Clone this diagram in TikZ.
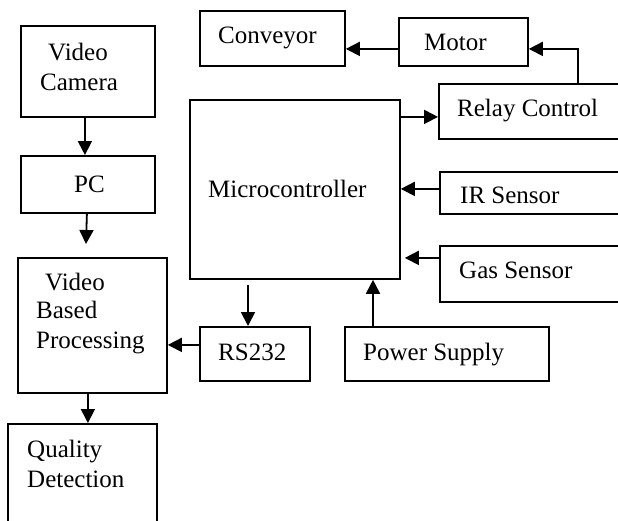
\documentclass[tikz,border=0pt]{standalone}
\usepackage{fontspec}
\setmainfont{Liberation Serif}
\usetikzlibrary{arrows.meta}
\begin{document}
\begin{tikzpicture}[x=1pt,y=-1pt,
  box/.style={draw,line width=1.8pt,inner sep=0pt,anchor=north west},
  lbl/.style={inner sep=0pt,anchor=base west,font=\fontsize{25}{29}\selectfont},
  arr/.style={line width=1.8pt,-{Triangle[length=14pt,width=14pt]}},
  con/.style={line width=1.8pt}]
\useasboundingbox (0,0) rectangle (618,520);
\clip (0,0) rectangle (618,520);
\fill[white] (0,0) rectangle (618,520);
% boxes
\node[box,minimum width=134pt,minimum height=91pt] (cam) at (20,25) {};
\node[box,minimum width=134pt,minimum height=57pt] (pc) at (20,155) {};
\node[box,minimum width=149pt,minimum height=135pt] (vbp) at (17,257) {};
\node[box,minimum width=149pt,minimum height=120pt] (qd) at (7,423) {};
\node[box,minimum width=145pt,minimum height=55pt] (conv) at (199,10) {};
\node[box,minimum width=129pt,minimum height=48pt] (motor) at (398,17) {};
\node[box,minimum width=200pt,minimum height=55pt] (relay) at (438,83) {};
\node[box,minimum width=210pt,minimum height=179pt] (mc) at (189,99) {};
\node[box,minimum width=200pt,minimum height=42pt] (ir) at (439,171) {};
\node[box,minimum width=200pt,minimum height=56pt] (gas) at (439,245) {};
\node[box,minimum width=204pt,minimum height=54pt] (ps) at (344,326) {};
\node[box,minimum width=110pt,minimum height=54pt] (rs) at (199,326) {};
% labels
\node[lbl] (t1) at (48,60) {Video};
\node[lbl] (t2) at (40,90) {Camera};
\node[lbl] (t3) at (74,192) {PC};
\node[lbl] (t4) at (208,197) {Microcontroller};
\node[lbl] (t5) at (218,43) {Conveyor};
\node[lbl] (t6) at (424,50) {Motor};
\node[lbl] (t7) at (457,116) {Relay Control};
\node[lbl] (t8) at (460,203) {IR Sensor};
\node[lbl] (t9) at (459,278) {Gas Sensor};
\node[lbl] (t10) at (363,360) {Power Supply};
\node[lbl] (t11) at (218,360) {RS232};
\node[lbl] (t12) at (45,290) {Video};
\node[lbl] (t13) at (36,318) {Based};
\node[lbl] (t14) at (36,348) {Processing};
\node[lbl] (t15) at (27,457) {Quality};
\node[lbl] (t16) at (27,487) {Detection};
% connector coordinates
\coordinate (c1) at ([xshift=-3pt]cam.south);
\coordinate (c2) at ([xshift=-1pt]pc.south);
\coordinate (pcend) at (86,244);
\coordinate (c3) at ([xshift=-4.5pt]vbp.south);
\coordinate (c4) at ([yshift=9pt]rs.west);
\coordinate (mcout) at (248,285);
\coordinate (psx) at (373,0);
\coordinate (r1) at ([yshift=-5.5pt]relay.west);
\coordinate (i1) at ([yshift=4pt]ir.west);
\coordinate (g1) at ([yshift=16pt]gas.west);
\coordinate (mcg) at ([xshift=4pt]mc.east);
\coordinate (rx) at (578,0);
\coordinate (m1) at ([yshift=-7pt]motor.east);
\coordinate (m2) at ([yshift=-7pt]motor.west);
% connectors
\draw[arr] (c1) -- (c1 |- pc.north);
\draw[arr] (c2) -- (pcend);
\draw[arr] (c3) -- (c3 |- qd.north);
\draw[arr] (c4) -- (vbp.east |- c4);
\draw[arr] (mcout) -- (mcout |- rs.north);
\draw[arr] (psx |- ps.north) -- (psx |- mc.south);
\draw[arr] (mc.east |- r1) -- (r1);
\draw[arr] (i1) -- (mc.east |- i1);
\draw[arr] (g1) -- (mcg |- g1);
\draw[arr] (rx |- relay.north) |- (m1);
\draw[arr] (m2) -- (conv.east |- m2);
\end{tikzpicture}
\end{document}
